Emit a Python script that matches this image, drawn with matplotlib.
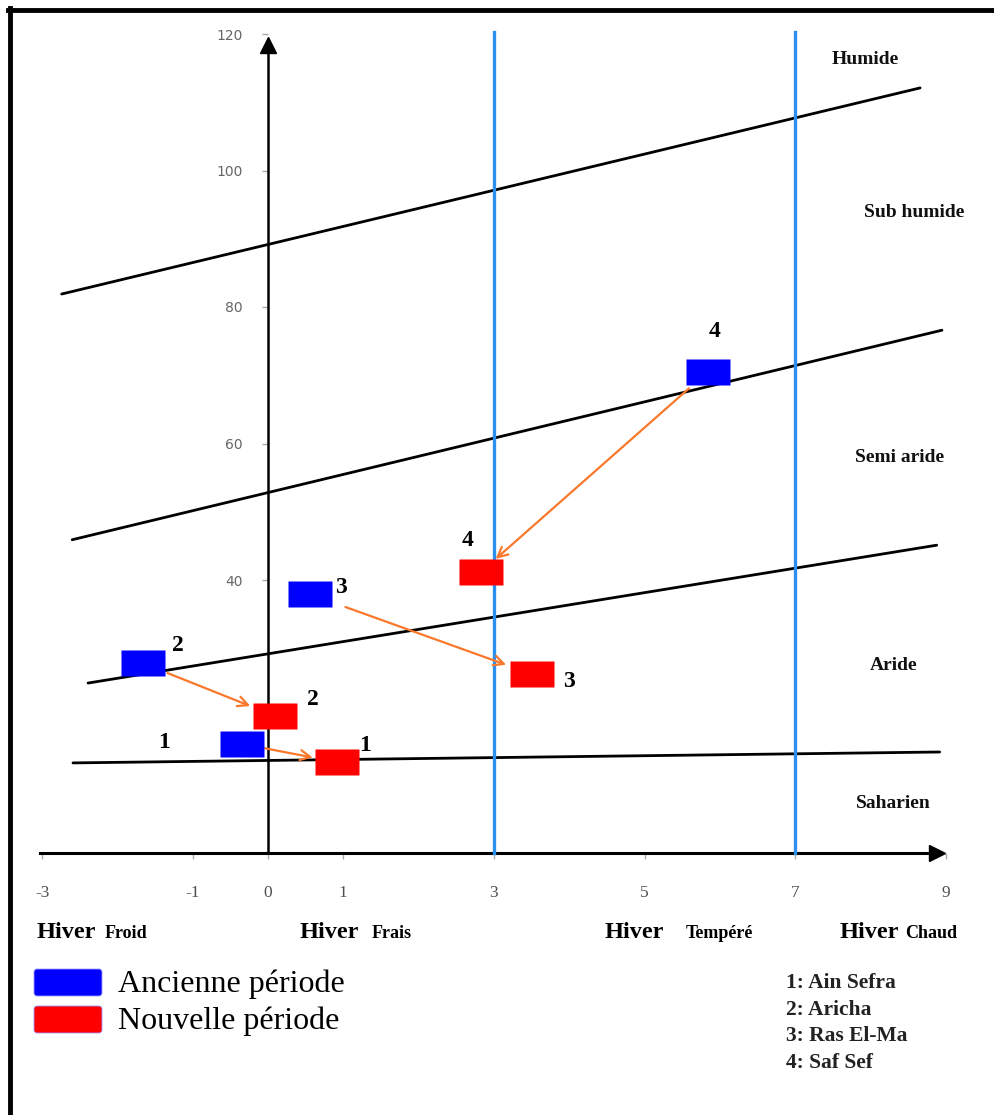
import matplotlib
matplotlib.use('Agg')
import matplotlib.pyplot as plt
from matplotlib.lines import Line2D
from matplotlib.patches import FancyBboxPatch
from matplotlib.transforms import IdentityTransform

# ---------------- data ----------------
station_ids = ['1', '2', '3', '4']
stations = ['Ain Sefra', 'Aricha', 'Ras El-Ma', 'Saf Sef']
# ancienne période (m, Q2)
m_old = [-0.35, -1.66, 0.56, 5.84]
q_old = [16.0, 27.8, 37.9, 70.5]
# nouvelle période (m, Q2)
m_new = [0.92, 0.09, 3.51, 2.83]
q_new = [13.3, 20.1, 26.2, 41.2]
period_labels = ['Ancienne période', 'Nouvelle période']

# Emberger bioclimatic limits (end points)
boundary_m = [[-2.74, 8.66], [-2.60, 8.95], [-2.39, 8.88], [-2.59, 8.92]]
boundary_q = [[81.9, 112.1], [45.9, 76.6], [24.9, 45.1], [13.2, 14.8]]
winter_limits = [3, 7]
zone_names = ['Humide', 'Sub humide', 'Semi aride', 'Aride', 'Saharien']
zone_m = [7.93, 8.58, 8.39, 8.31, 8.30]
zone_q = [116.2, 93.9, 58.0, 27.5, 7.3]
winter_word = 'Hiver'
winter_names = ['Froid', 'Frais', 'Tempéré', 'Chaud']
x_ticks = [-3, -1, 0, 1, 3, 5, 7, 9]
y_ticks = [40, 60, 80, 100, 120]

# ---------------- layout helpers ----------------
W, H = 995, 1115
X0, SX = 268.0, 75.3     # pixel of m=0, pixels per unit
Y0, SY = 853.0, 6.825    # pixel of Q=0, pixels per unit
xlim = (-3.4, 9.5)
ylim = (-4.0, 125.0)

def fx(px):
    return px / W

def fy(py):
    return 1 - py / H

fig = plt.figure(figsize=(W / 100, H / 100), dpi=100)
left_px = X0 + SX * xlim[0]
right_px = X0 + SX * xlim[1]
bot_px = Y0 - SY * ylim[0]
top_px = Y0 - SY * ylim[1]
ax = fig.add_axes([fx(left_px), fy(bot_px), (right_px - left_px) / W, (bot_px - top_px) / H])
ax.set_xlim(*xlim)
ax.set_ylim(*ylim)
ax.patch.set_alpha(0)

serif = 'Liberation Serif'
blue_c = '#0000FF'
red_c = '#FF0000'
orange_c = '#F9782C'
vline_c = '#2B8FEF'

# axes as arrows through origin
for s in ['right', 'top']:
    ax.spines[s].set_visible(False)
ax.spines['left'].set_position(('data', 0))
ax.spines['bottom'].set_position(('data', 0))
ax.spines['left'].set_bounds(0, 118.2)
ax.spines['bottom'].set_bounds(-3.03, 8.85)
ax.spines['left'].set_linewidth(1.8)
ax.spines['bottom'].set_linewidth(2.2)
ax.plot([8.88], [0], marker='>', color='black', ms=12, clip_on=False, zorder=6)
ax.plot([0], [118.4], marker='^', color='black', ms=12, clip_on=False, zorder=6)

ax.set_xticks(x_ticks)
ax.set_xticklabels([str(t) for t in x_ticks], family=serif, fontsize=12.5, color='#505050')
ax.set_yticks(y_ticks)
ax.set_yticklabels([str(t) for t in y_ticks], family='DejaVu Sans', fontsize=10, color='#666666')
ax.tick_params(axis='x', direction='out', length=4, width=1, color='#aaaaaa', pad=19)
ax.tick_params(axis='y', direction='out', length=4, width=1, color='#aaaaaa', pad=14)

# limit lines
for bm, bq in zip(boundary_m, boundary_q):
    ax.plot(bm, bq, color='black', lw=2.0, zorder=2, solid_capstyle='round')
for wl in winter_limits:
    ax.plot([wl, wl], [0, 120.3], color=vline_c, lw=2.4, zorder=3)

# zone names
for name, zm, zq in zip(zone_names, zone_m, zone_q):
    ax.text(zm, zq, name, family=serif, fontweight='bold', fontsize=14,
            ha='center', va='center', color='#111111')

# points as rectangles
rect_marker = [(-1, -0.6), (1, -0.6), (1, 0.6), (-1, 0.6), (-1, -0.6)]
ax.plot(m_old, q_old, linestyle='none', marker=rect_marker, ms=31,
        mfc=blue_c, mec='none', zorder=5)
ax.plot(m_new, q_new, linestyle='none', marker=rect_marker, ms=31,
        mfc=red_c, mec='none', zorder=5)

# evolution arrows
shrink_a = [17, 19, 27, 18]
shrink_b = [18, 19, 20, 14]
for i in range(len(station_ids)):
    ax.annotate('', xy=(m_new[i], q_new[i]), xytext=(m_old[i], q_old[i]),
                arrowprops=dict(arrowstyle='->', color=orange_c, lw=1.6,
                                shrinkA=shrink_a[i], shrinkB=shrink_b[i],
                                mutation_scale=18), zorder=4)

# station numbers
old_off = [(-78, 1), (35, 18), (31, 7), (7, 40)]
new_off = [(28, 17), (38, 16), (37, -7), (-14, 31)]
for i, sid in enumerate(station_ids):
    ax.annotate(sid, (m_old[i], q_old[i]), xytext=old_off[i], textcoords='offset pixels',
                family=serif, fontweight='bold', fontsize=17, ha='center', va='center', zorder=6)
    ax.annotate(sid, (m_new[i], q_new[i]), xytext=new_off[i], textcoords='offset pixels',
                family=serif, fontweight='bold', fontsize=17, ha='center', va='center', zorder=6)

# winter types below the axis
hiver_x = [37, 300, 605, 840]
name_x = [105, 372, 686, 905]
for hx, nx, nm in zip(hiver_x, name_x, winter_names):
    fig.text(fx(hx), fy(938), winter_word, family=serif, fontweight='bold', fontsize=17.5,
             ha='left', va='baseline')
    fig.text(fx(nx), fy(938), nm, family=serif, fontweight='bold', fontsize=13,
             ha='left', va='baseline')

# legend
leg_cols = [blue_c, red_c]
leg_y = [969, 1006]
for col, ly, lab in zip(leg_cols, leg_y, period_labels):
    fig.add_artist(FancyBboxPatch((34, H - ly - 27), 68, 27,
                                  boxstyle='round,pad=0,rounding_size=3',
                                  transform=IdentityTransform(), fc=col, ec='#9a9aff', lw=0.6))
    fig.text(fx(118), fy(ly + 15), lab, family=serif, fontsize=23, ha='left', va='center')

# station list
for i, (sid, st) in enumerate(zip(station_ids, stations)):
    fig.text(fx(786), fy(983 + 26.7 * i), f'{sid}: {st}', family=serif, fontweight='bold',
             fontsize=15.5, ha='left', va='center', color='#222222')

# outer frame (left and top)
fig.add_artist(Line2D([fx(10), fx(10)], [fy(8), fy(H + 5)], lw=3.5, color='black'))
fig.add_artist(Line2D([fx(8), fx(W + 5)], [fy(10), fy(10)], lw=3.5, color='black'))

fig.savefig('out.png', dpi=100)
